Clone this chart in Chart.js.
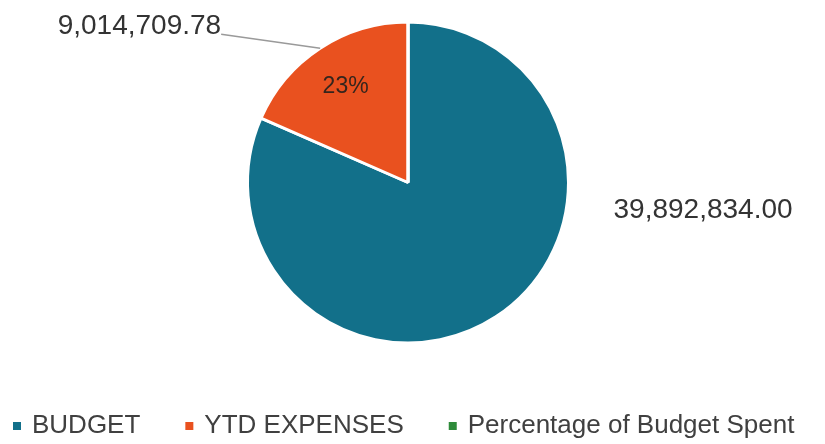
<!DOCTYPE html>
<html>
<head>
<meta charset="utf-8">
<script src="https://cdn.jsdelivr.net/npm/chart.js@4"></script>
<style>
  html, body { margin: 0; padding: 0; background: #fff; }
  #wrap { width: 825px; height: 444px; }
</style>
</head>
<body>
<div id="wrap"><canvas id="budget-chart" width="825" height="444"></canvas></div>
<script>
// Chart data
const categories = ['BUDGET', 'YTD EXPENSES', 'Percentage of Budget Spent'];
const values = [39892834.00, 9014709.78, 0.226];
const sliceColors = ['#12708A', '#E9511F', '#2E8B3A'];

const FONT = '"Liberation Sans", Arial, sans-serif';

function formatMoney(v) {
  return v.toLocaleString('en-US', { minimumFractionDigits: 2, maximumFractionDigits: 2 });
}

// Draws value labels, leader line and the legend
const labelPlugin = {
  id: 'labelPlugin',
  afterDatasetsDraw(chart) {
    const ctx = chart.ctx;
    const arcs = chart.getDatasetMeta(0).data;
    const budgetArc = arcs[0];
    const ytdArc = arcs[1];
    const r = budgetArc.outerRadius;

    ctx.save();
    ctx.fillStyle = '#333';
    ctx.font = '28px ' + FONT;
    ctx.textBaseline = 'alphabetic';

    // Budget value, outside on the right
    ctx.textAlign = 'left';
    ctx.fillText(formatMoney(values[0]), budgetArc.x + r + 45, budgetArc.y + 35);

    // YTD value with leader line
    const mid = (ytdArc.startAngle + ytdArc.endAngle) / 2;
    const ex = ytdArc.x + Math.cos(mid) * r;
    const ey = ytdArc.y + Math.sin(mid) * r;
    const lx = ex - 99;
    const ly = ey - 14;
    ctx.strokeStyle = '#9a9a9a';
    ctx.lineWidth = 1.5;
    ctx.beginPath();
    ctx.moveTo(ex, ey);
    ctx.lineTo(lx, ly);
    ctx.stroke();
    ctx.textAlign = 'right';
    ctx.fillText(formatMoney(values[1]), lx, ly);

    // Percentage label inside the YTD slice
    const pr = r * 0.71;
    ctx.font = '23px ' + FONT;
    ctx.textAlign = 'center';
    ctx.textBaseline = 'middle';
    ctx.fillStyle = '#35251d';
    ctx.fillText(Math.round(values[2] * 100) + '%', ytdArc.x + Math.cos(mid) * pr, ytdArc.y + Math.sin(mid) * pr);

    // Legend
    ctx.font = '26px ' + FONT;
    ctx.textAlign = 'left';
    ctx.textBaseline = 'middle';
    let x = 13;
    const y = 426;
    categories.forEach((name, i) => {
      ctx.fillStyle = sliceColors[i];
      ctx.fillRect(x, y - 4, 8, 8);
      ctx.fillStyle = '#404040';
      ctx.fillText(name, x + 19, y);
      x += 19 + ctx.measureText(name).width + 45;
    });
    ctx.restore();
  }
};

const ctx = document.getElementById('budget-chart').getContext('2d');
new Chart(ctx, {
  type: 'pie',
  data: {
    labels: categories,
    datasets: [{
      data: values,
      backgroundColor: sliceColors,
      borderColor: '#ffffff',
      borderWidth: 3
    }]
  },
  options: {
    responsive: false,
    animation: false,
    layout: {
      padding: { top: 20, bottom: 99, left: 246, right: 255 }
    },
    plugins: {
      legend: { display: false },
      tooltip: { enabled: false }
    }
  },
  plugins: [labelPlugin]
});
</script>
</body>
</html>
